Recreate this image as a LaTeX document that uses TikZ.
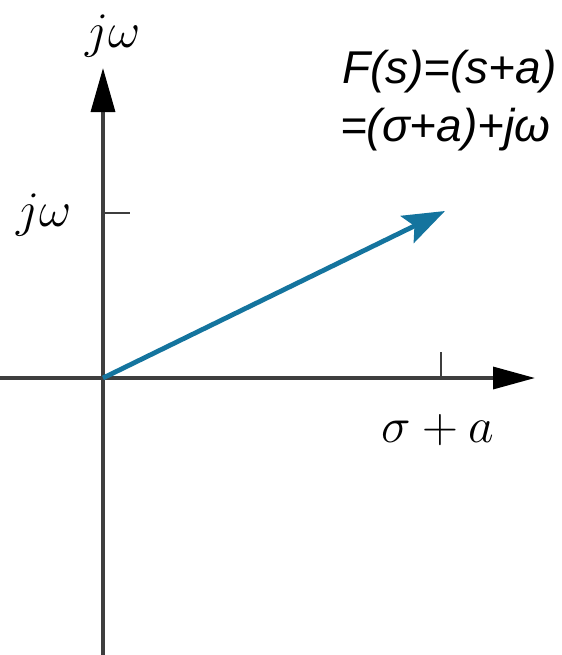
\documentclass[tikz,border=0pt]{standalone}
\usepackage{fontspec}
\usepackage{amsmath}
\usetikzlibrary{positioning, arrows.meta}
\newfontfamily\annotfont{Liberation Sans}
\definecolor{vecblue}{RGB}{20, 116, 158}
\definecolor{axisgray}{RGB}{62, 62, 62}

\begin{document}
\begin{tikzpicture}[x=0.5pt, y=-0.5pt, font=\fontsize{24}{28}\selectfont,
  axis/.style={line width=1.7pt, axisgray},
  tickline/.style={line width=1.1pt, axisgray},
  vector/.style={line width=2.4pt, vecblue, -{Stealth[length=21pt, width=15pt, inset=4pt]}},
  eqtext/.style={anchor=base west, font=\annotfont\itshape\fontsize{23}{27}\selectfont}]
  \useasboundingbox (0,0) rectangle (562,655);

  % axes
  \coordinate (O) at (103,378);
  \coordinate (ybot) at (103,655);
  \coordinate (ytip) at (103,68);
  \coordinate (xleft) at (0,378);
  \coordinate (xtip) at (535,378);
  \draw[axis, -{Triangle[length=22pt, width=12pt, black]}] (ybot) -- (ytip);
  \draw[axis, -{Triangle[length=21pt, width=11pt, black]}] (xleft) -- (xtip);

  % ticks
  \coordinate (wtick) at (130,213);
  \coordinate (stick) at (441,352);
  \draw[tickline] (O |- wtick) -- (wtick);
  \draw[tickline] (O -| stick) -- (stick);

  % the vector F(s)
  \coordinate (F) at (445,211);
  \draw[vector] (O) -- (F);

  % labels
  \node[above=2pt of ytip, xshift=5pt] (wlabel) {$j\omega$};
  \node (wval) at (44,215) {$j\omega$};
  \node (sval) at (438,430) {$\sigma+a$};
  \node[eqtext] (eq1) at (335,83) {F(s)=(s+a)};
  \node[eqtext] (eq2) at (333,141) {=(σ+a)+jω};
\end{tikzpicture}
\end{document}
